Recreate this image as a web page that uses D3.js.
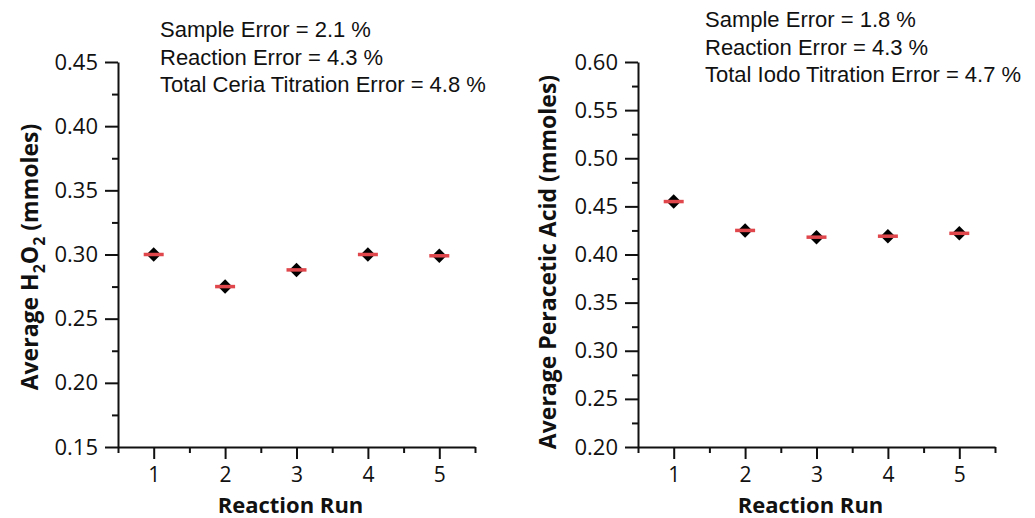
<!DOCTYPE html>
<html>
<head>
<meta charset="utf-8">
<script src="https://cdn.jsdelivr.net/npm/d3@7"></script>
<style>
  body { margin: 0; background: #fff; }
  .tick text { font-family: "Open Sans", sans-serif; font-size: 22px; fill: #111; }
  .xAxis .tick text { font-size: 21px; }
  .axisTitle { font-family: "Open Sans", sans-serif; font-weight: bold; font-size: 23px; fill: #111; }
  .note { font-family: "Liberation Sans", Arial, sans-serif; font-size: 22px; fill: #111; }
</style>
</head>
<body>
<div id="chart"></div>
<script>
// Data
var runs = [1, 2, 3, 4, 5];
var h2o2Values = [0.300, 0.275, 0.288, 0.300, 0.299];
var peraceticValues = [0.455, 0.425, 0.418, 0.419, 0.422];
var h2o2Ticks = [0.15, 0.20, 0.25, 0.30, 0.35, 0.40, 0.45];
var peraceticTicks = [0.20, 0.25, 0.30, 0.35, 0.40, 0.45, 0.50, 0.55, 0.60];
var h2o2Notes = ["Sample Error = 2.1 %", "Reaction Error = 4.3 %", "Total Ceria Titration Error = 4.8 %"];
var peraceticNotes = ["Sample Error = 1.8 %", "Reaction Error = 4.3 %", "Total Iodo Titration Error = 4.7 %"];

var svgWidth = 1035;
var svgHeight = 518;

var svg = d3.select("#chart")
  .append("svg")
  .attr("width", svgWidth)
  .attr("height", svgHeight);

function drawPanel(opts) {
  var x = d3.scaleLinear().domain([0.5, 5.5]).range([opts.left, opts.right]);
  var y = d3.scaleLinear().domain(opts.yDomain).range([447, 62]);
  var g = svg.append("g");

  // minor ticks
  var xMinor = d3.range(0.5, 5.51, 1);
  var yMinor = opts.ticks.slice(0, -1).map(d => d + 0.025);

  g.append("g")
    .attr("class", "xAxis")
    .attr("transform", `translate(0, ${y(opts.yDomain[0])})`)
    .call(d3.axisBottom(x).tickValues(runs).tickFormat(d3.format("d")).tickSize(12).tickSizeOuter(0).tickPadding(8));
  g.append("g")
    .attr("transform", `translate(0, ${y(opts.yDomain[0])})`)
    .call(d3.axisBottom(x).tickValues(xMinor).tickFormat("").tickSize(6).tickSizeOuter(0))
    .select(".domain").remove();

  g.append("g")
    .attr("transform", `translate(${opts.left}, 0)`)
    .call(d3.axisLeft(y).tickValues(opts.ticks).tickFormat(d3.format(".2f")).tickSize(13).tickSizeOuter(0).tickPadding(7));
  g.append("g")
    .attr("transform", `translate(${opts.left}, 0)`)
    .call(d3.axisRight(y).tickValues(yMinor).tickFormat("").tickSize(-6).tickSizeOuter(0))
    .select(".domain").remove();

  g.selectAll(".domain, .tick line").attr("stroke", "#111").attr("stroke-width", 2);

  // points
  var pts = g.append("g").selectAll("g")
    .data(runs.map((r, i) => ({ run: r, value: opts.values[i] })))
    .enter()
    .append("g")
    .attr("transform", d => `translate(${x(d.run)}, ${y(d.value)})`);

  pts.append("path")
    .attr("d", d3.symbol().type(d3.symbolSquare).size(105))
    .attr("transform", "rotate(45)")
    .attr("fill", "#000");

  pts.append("line")
    .attr("x1", -10).attr("x2", 10)
    .attr("stroke", "#e0474c")
    .attr("stroke-width", 3.5);

  // axis titles
  g.append("text")
    .attr("class", "axisTitle")
    .attr("x", (opts.left + opts.right) / 2 - 6)
    .attr("y", 513)
    .attr("font-size", "22px")
    .attr("text-anchor", "middle")
    .style("font-size", "22px")
    .text("Reaction Run");

  var yt = g.append("text")
    .attr("class", "axisTitle")
    .attr("transform", `translate(${opts.titleX}, ${opts.titleY}) rotate(-90)`)
    .attr("text-anchor", "middle");
  opts.yTitle.forEach(function(part) {
    var t = yt.append("tspan").text(part.t);
    if (part.sub) t.attr("dy", 7).attr("font-size", "16px");
    else if (part.after) t.attr("dy", -7);
  });

  // notes
  g.append("g").selectAll("text")
    .data(opts.notes)
    .enter()
    .append("text")
    .attr("class", "note")
    .attr("x", opts.noteX)
    .attr("y", (d, i) => opts.noteY + i * 27.5)
    .text(d => d);
}

drawPanel({
  left: 118, right: 475,
  yDomain: [0.15, 0.45],
  ticks: h2o2Ticks,
  values: h2o2Values,
  notes: h2o2Notes,
  noteX: 160, noteY: 37,
  titleX: 38, titleY: 257,
  yTitle: [{ t: "Average H" }, { t: "2", sub: true }, { t: "O", after: true }, { t: "2", sub: true }, { t: " (mmoles)", after: true }]
});

drawPanel({
  left: 638, right: 995,
  yDomain: [0.20, 0.60],
  ticks: peraceticTicks,
  values: peraceticValues,
  notes: peraceticNotes,
  noteX: 705, noteY: 27,
  titleX: 556, titleY: 262,
  yTitle: [{ t: "Average Peracetic Acid (mmoles)" }]
});
</script>
</body>
</html>
